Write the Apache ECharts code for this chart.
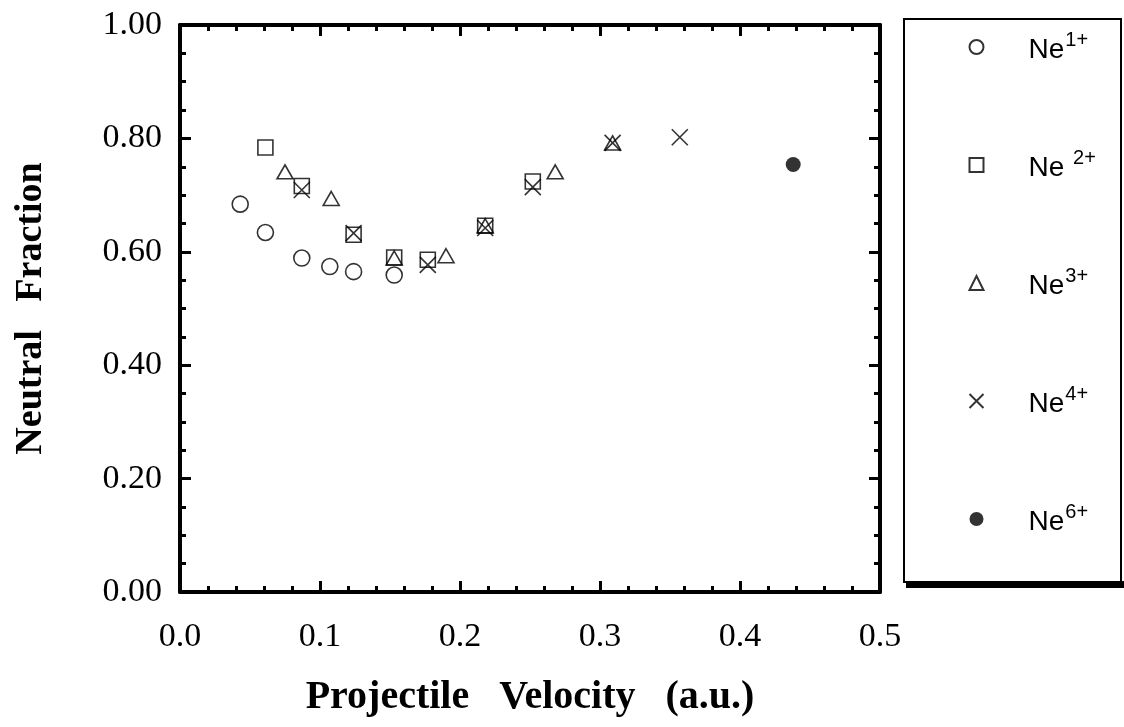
<!DOCTYPE html>
<html>
<head>
<meta charset="utf-8">
<script src="https://cdn.jsdelivr.net/npm/echarts@6/dist/echarts.min.js"></script>
<style>
  html, body { margin: 0; padding: 0; background: #fff; }
  #chart { width: 1124px; height: 727px; }
</style>
</head>
<body>
<div id="chart"></div>
<script>
// data: [velocity (a.u.), neutral fraction]
const ne1 = [[0.043, 0.684], [0.061, 0.634], [0.087, 0.589], [0.107, 0.574], [0.124, 0.565], [0.153, 0.559]];
const ne2 = [[0.061, 0.784], [0.087, 0.716], [0.124, 0.630], [0.153, 0.590], [0.177, 0.586], [0.218, 0.646], [0.252, 0.724]];
const ne3 = [[0.075, 0.741], [0.108, 0.694], [0.153, 0.589], [0.190, 0.593], [0.218, 0.646], [0.268, 0.741], [0.309, 0.792]];
const ne4 = [[0.087, 0.709], [0.124, 0.633], [0.177, 0.577], [0.218, 0.642], [0.252, 0.714], [0.309, 0.792], [0.357, 0.802]];
const ne6 = [[0.438, 0.754]];

const seriesNames = ['Ne1+', 'Ne 2+', 'Ne3+', 'Ne4+', 'Ne6+'];
const xTicks = [0, 0.1, 0.2, 0.3, 0.4, 0.5];
const yTicks = [0, 0.2, 0.4, 0.6, 0.8, 1.0];

const chart = echarts.init(document.getElementById('chart'));

const serif = 'Liberation Serif';
const cross = 'path://M0,0L10,10M10,0L0,10';

// frame axis (labels only on bottom/left)
const frameAxis = (opts) => Object.assign({
  type: 'value',
  min: 0,
  axisLine: { show: true, onZero: false, lineStyle: { color: '#000', width: 4 } },
  axisTick: { show: true, inside: true, length: 11, lineStyle: { color: '#000', width: 3 } },
  splitLine: { show: false },
  minorSplitLine: { show: false }
}, opts);

const minor = (n) => ({ show: true, splitNumber: n, length: 6, lineStyle: { color: '#000', width: 3 } });

const hollow = { color: 'none', borderColor: '#000', borderWidth: 1.6 };

const option = {
  backgroundColor: '#fff',
  animation: false,
  grid: { left: 180, right: 244, top: 25, bottom: 135 },
  xAxis: [
    frameAxis({
      position: 'bottom', max: 0.5, interval: 0.1,
      minorTick: minor(5),
      name: 'Projectile   Velocity   (a.u.)',
      nameLocation: 'middle', nameGap: 86,
      nameTextStyle: { fontFamily: serif, fontWeight: 'bold', fontSize: 40, color: '#000' },
      axisLabel: { margin: 28, fontFamily: serif, fontSize: 34, color: '#000',
        formatter: v => xTicks.includes(v) ? v.toFixed(1) : '' }
    }),
    frameAxis({
      position: 'top', max: 0.5, interval: 0.1,
      minorTick: minor(5),
      axisLabel: { show: false }
    })
  ],
  yAxis: [
    frameAxis({
      position: 'left', max: 1, interval: 0.2,
      minorTick: minor(4),
      name: 'Neutral   Fraction',
      nameLocation: 'middle', nameGap: 130, nameRotate: 90,
      nameTextStyle: { fontFamily: serif, fontWeight: 'bold', fontSize: 38, color: '#000' },
      axisLabel: { margin: 18, padding: [10, 0, 0, 0], fontFamily: serif, fontSize: 34, color: '#000',
        formatter: v => yTicks.some(t => Math.abs(t - v) < 1e-9) ? v.toFixed(2) : '' }
    }),
    frameAxis({
      position: 'right', max: 1, interval: 0.2,
      minorTick: minor(4),
      axisLabel: { show: false }
    })
  ],
  legend: {
    orient: 'vertical',
    left: 962,
    top: 25,
    itemGap: 82,
    itemWidth: 14,
    itemHeight: 14,
    data: seriesNames,
    formatter: name => {
      const m = name.match(/^(Ne ?)(\d\+)$/);
      return '{n|' + m[1] + '}{s|' + m[2] + '}';
    },
    textStyle: {
      padding: [0, 0, 0, 40],
      rich: {
        n: { fontFamily: 'Liberation Sans', fontSize: 28, color: '#000', lineHeight: 34, verticalAlign: 'bottom' },
        s: { fontFamily: 'Liberation Sans', fontSize: 20, color: '#000', lineHeight: 34, verticalAlign: 'top', padding: [0, 0, 16, 1] }
      }
    }
  },
  graphic: [
    // legend box with heavy bottom edge
    { type: 'rect', shape: { x: 904, y: 19, width: 217, height: 563 }, z: 0,
      style: { fill: '#fff', stroke: '#000', lineWidth: 2 } },
    { type: 'rect', shape: { x: 906, y: 581, width: 218, height: 7 }, z: 1,
      style: { fill: '#000' } }
  ],
  series: [
    { name: seriesNames[0], type: 'scatter', data: ne1, symbol: 'circle', symbolSize: 16, itemStyle: hollow },
    { name: seriesNames[1], type: 'scatter', data: ne2, symbol: 'rect', symbolSize: 15, itemStyle: hollow },
    { name: seriesNames[2], type: 'scatter', data: ne3, symbol: 'triangle', symbolSize: [16, 14], itemStyle: hollow },
    { name: seriesNames[3], type: 'scatter', data: ne4, symbol: cross, symbolSize: 16, itemStyle: hollow },
    { name: seriesNames[4], type: 'scatter', data: ne6, symbol: 'circle', symbolSize: 15, itemStyle: { color: '#000' } }
  ]
};

chart.setOption(option);
</script>
</body>
</html>
